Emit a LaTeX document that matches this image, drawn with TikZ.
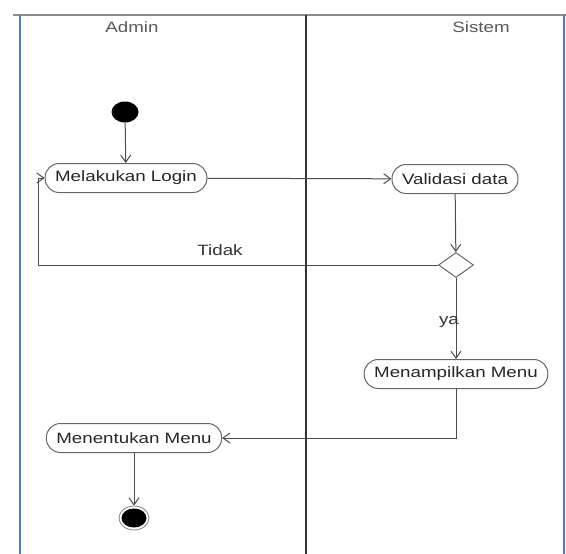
\documentclass[tikz,border=0pt]{standalone}
\usepackage{fontspec}
\setmainfont[FakeStretch=1.25]{Liberation Sans}
\usepackage{xcolor}
\usetikzlibrary{arrows.meta,shapes.geometric}
\definecolor{laneblue}{HTML}{4A7FC1}
\begin{document}
\begin{tikzpicture}[x=1pt,y=-1pt,
  act/.style={draw=black!60, line width=1pt, rounded corners=14pt, minimum height=29pt, inner xsep=10pt, text=black!85, font=\fontsize{15}{18}\selectfont},
  hdr/.style={text=black!65, font=\fontsize{15}{18}\selectfont},
  lbl/.style={text=black!80, font=\fontsize{15}{18}\selectfont},
  flow/.style={-{Straight Barb[length=7pt,width=10pt]}, line width=1pt, draw=black!70},
  lane/.style={line width=2.5pt, draw=laneblue},
  dot/.style={ellipse, fill=black, minimum width=27pt, minimum height=21pt, inner sep=0pt},
]
\useasboundingbox (0,0) rectangle (566,554);
% swimlanes
\draw[line width=2pt, draw=black!45] (13,15) -- (566,15);
\draw[lane] (20,15) -- (20,554);
\draw[lane] (564,15) -- (564,554);
\draw[line width=1.5pt, draw=black!80] (306,15) -- (306,554);
\node[hdr] (admin) at (132,27) {Admin};
\node[hdr] (sistem) at (481,27) {Sistem};
% activities
\node[dot] (start) at (125,112) {};
\node[act] (login) at (126,178) {Melakukan Login};
\node[act] (valid) at (455,179) {Validasi data};
\node[diamond, draw=black!60, line width=1pt, minimum width=35pt, minimum height=25pt, inner sep=0pt, aspect=1.4] (dec) at (456,265) {};
\node[act] (tampil) at (456,374) {Menampilkan Menu};
\node[act] (tentu) at (134,438) {Menentukan Menu};
\node[ellipse, draw=black!50, line width=0.8pt, minimum width=30pt, minimum height=24pt, inner sep=0pt] (end) at (134,518) {};
\node[dot, minimum width=25pt, minimum height=19pt] (endin) at (end) {};
% flows
\coordinate (back) at (38,265);
\draw[flow] (start) -- (login);
\draw[flow] (login) -- (valid);
\draw[flow] (valid) -- (dec);
\draw[flow] (dec.west) -- (back) |- (login.west);
\node[lbl] (tidak) at (220,250) {Tidak};
\draw[flow] (dec) -- (tampil);
\node[lbl] (ya) at (449,322) {ya};
\draw[flow] (tampil.south) |- (tentu.east);
\draw[flow] (tentu) -- (end);
\end{tikzpicture}
\end{document}
